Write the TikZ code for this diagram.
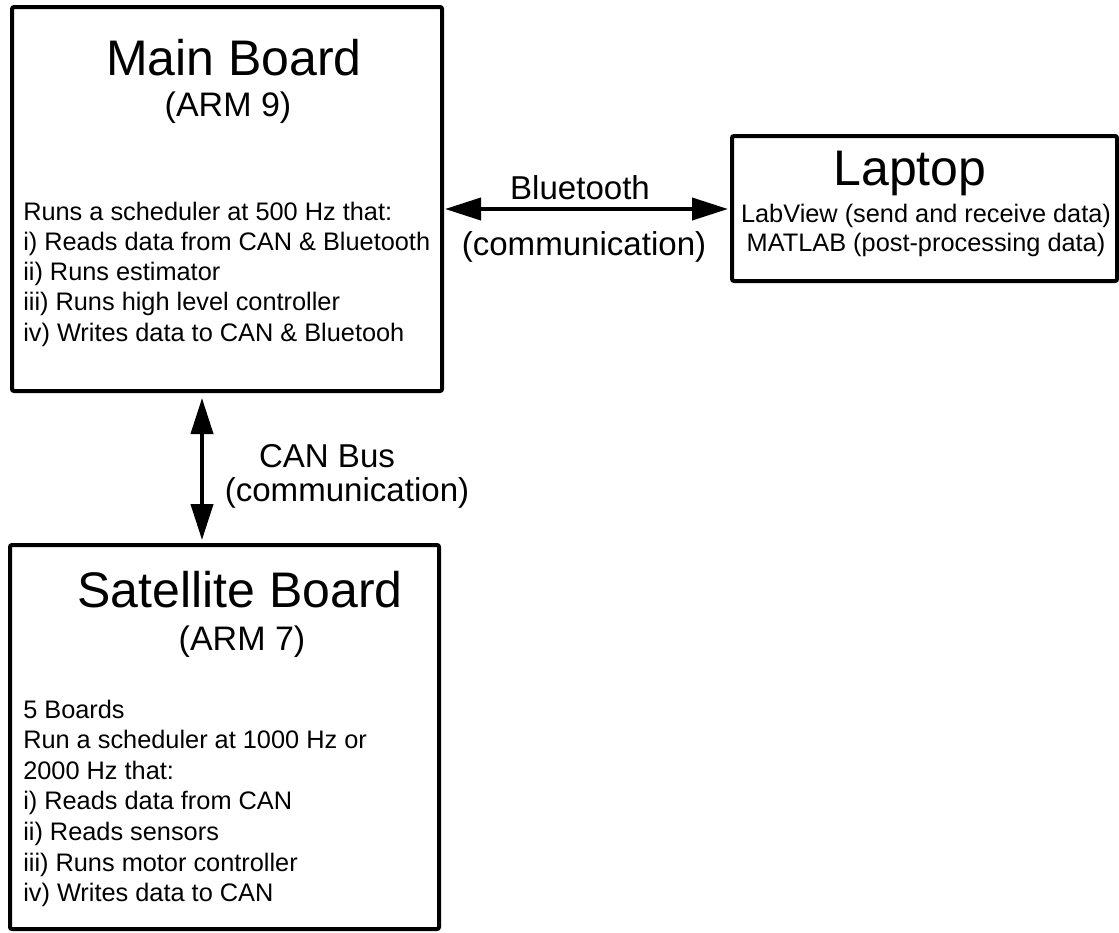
\documentclass[tikz,border=0pt]{standalone}
\usepackage{fontspec}
\setmainfont{Liberation Sans}
\usetikzlibrary{arrows.meta,fit}
\begin{document}
\begin{tikzpicture}[x=0.75pt,y=-0.75pt,
  box/.style={draw, line width=3pt, rounded corners=1.5pt, inner sep=0pt, outer sep=0pt},
  title/.style={font=\fontsize{37.5}{45}\selectfont, anchor=base, inner sep=0pt},
  sub/.style={font=\fontsize{25.5}{30}\selectfont, anchor=base, inner sep=0pt},
  body/.style={font=\fontsize{19}{22.8}\selectfont, anchor=base west, inner sep=0pt},
  lap/.style={font=\fontsize{19}{22.8}\selectfont, anchor=base, inner sep=0pt},
  lab/.style={font=\fontsize{24.8}{30}\selectfont, anchor=base, inner sep=0pt},
  link/.style={line width=3pt, {Triangle[length=27pt,width=16.5pt]}-{Triangle[length=27pt,width=16.5pt]}}
]
\useasboundingbox (0,0) rectangle (1119,932);

% boxes
\node[box, fit={(12,7) (442,391)}] (main) {};
\node[box, fit={(10,545) (439,929)}] (sat) {};
\node[box, fit={(732,136) (1117,281)}] (laptop) {};

% main board text
\node[title] (mt) at (234,75) {Main Board};
\node[sub] (ms) at (228,116) {(ARM 9)};
\foreach \t [count=\i] in {Runs a scheduler at 500 Hz that:,
  i) Reads data from CAN \& Bluetooth,
  ii) Runs estimator,
  iii) Runs high level controller,
  iv) Writes data to CAN \& Bluetooh}
  \node[body] (m\i) at (23,{220+30.3*(\i-1)}) {\t};

% satellite board text
\node[title] (st) at (240,607) {Satellite Board};
\node[sub] (ss) at (242,650) {(ARM 7)};
\foreach \t [count=\i] in {5 Boards,
  Run a scheduler at 1000 Hz or,
  2000 Hz that:,
  i) Reads data from CAN,
  ii) Reads sensors,
  iii) Runs motor controller,
  iv) Writes data to CAN}
  \node[body] (s\i) at (23,{718+30.6*(\i-1)}) {\t};

% laptop text
\node[title] (lt) at (910,185) {Laptop};
\node[lap] (l1) at (926,222) {LabView (send and receive data)};
\node[lap] (l2) at (926,251) {MATLAB (post-processing data)};

% connectors
\coordinate (bt) at (0,209);
\coordinate (cb) at (202,0);
\draw[link, shorten <=2.25pt, shorten >=3pt] (main.east |- bt) -- (laptop.west |- bt);
\draw[link, shorten <=5.25pt, shorten >=3.75pt] (main.south -| cb) -- (sat.north -| cb);

% connector labels
\node[lab] (bl) at (580,199) {Bluetooth};
\node[lab] (bc) at (584,255) {(communication)};
\node[lab] (cl) at (327,467) {CAN Bus};
\node[lab] (cc) at (347,501) {(communication)};
\end{tikzpicture}
\end{document}
